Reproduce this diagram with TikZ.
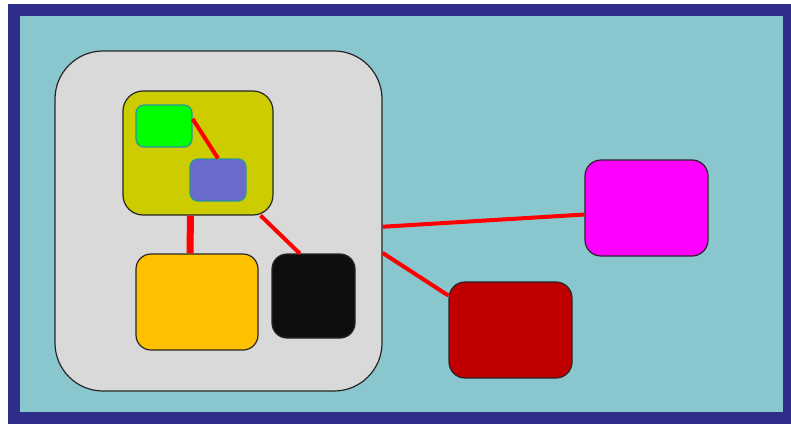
\documentclass[tikz,border=0pt]{standalone}
\usepackage{tikz}
\usetikzlibrary{shapes,positioning}

\definecolor{frameblue}{RGB}{46,46,138}
\definecolor{seateal}{RGB}{138,198,206}
\definecolor{panelgray}{RGB}{217,217,217}
\definecolor{olive}{RGB}{204,204,0}
\definecolor{lime}{RGB}{0,255,0}
\definecolor{slate}{RGB}{107,107,204}
\definecolor{amber}{RGB}{255,192,0}
\definecolor{coal}{RGB}{14,14,14}
\definecolor{fuchsia}{RGB}{255,0,255}
\definecolor{maroon}{RGB}{192,0,0}
\definecolor{tealedge}{RGB}{40,150,160}

\begin{document}
\begin{tikzpicture}[x=1pt,y=-1pt,
    box/.style={draw=black!85,line width=1.2pt,inner sep=0pt,rounded corners=#1},
    box/.default=16pt,
    small/.style={draw=tealedge,line width=1.2pt,inner sep=0pt,rounded corners=8pt,
        minimum width=56pt,minimum height=42pt},
    wire/.style={red,line width=4pt},
    fatwire/.style={red,line width=7pt}]
\useasboundingbox (0,0) rectangle (791,423);
% Frame
\draw[frameblue,fill=seateal,line width=12pt] (14,10) rectangle (789,418);
% Big panel and its contents
\node[box=48pt,fill=panelgray,minimum width=327pt,minimum height=340pt] (panel) at (218.5,221) {};
\node[box=20pt,fill=olive,minimum width=150pt,minimum height=124pt] (group) at (198,153) {};
\node[small,fill=lime] (green) at (164,126) {};
\node[small,fill=slate] (violet) at (218,180) {};
\node[box=15pt,fill=amber,minimum width=122pt,minimum height=96pt] (orange) at (197,302) {};
\node[box=15pt,fill=coal,minimum width=83pt,minimum height=84pt] (black) at (313.5,296) {};
% Outside boxes
\node[box,fill=fuchsia,minimum width=123pt,minimum height=96pt] (pink) at (646.5,208) {};
\node[box,fill=maroon,minimum width=123pt,minimum height=96pt] (red) at (510.5,330) {};
% Links
\draw[wire] (green.14) -- (violet.north);
\draw[fatwire] (group.-97.4) -- (orange.98.3);
\draw[wire] (group.-45) -- (black.108);
\draw[wire] (panel.-2.5) -- (pink.186);
\draw[wire] (panel.-11.7) -- (red.151);
\end{tikzpicture}
\end{document}
